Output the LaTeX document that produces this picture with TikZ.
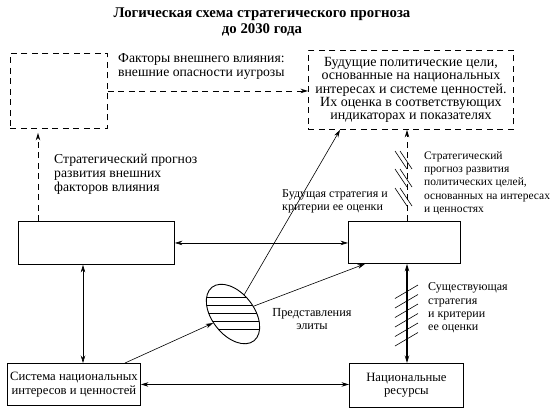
\documentclass[tikz,border=0pt]{standalone}
\usepackage{fontspec}
\setmainfont{Liberation Serif}
\usetikzlibrary{arrows.meta,shapes.geometric,calc}
\begin{document}
\begin{tikzpicture}[x=1pt,y=-1pt,
  dbox/.style={draw, dash pattern=on 6pt off 4.5pt, line width=0.9pt, inner sep=0pt, anchor=north west, align=center, font=\fontsize{14}{13.2}\selectfont},
  sbox/.style={draw, line width=0.9pt, inner sep=0pt, anchor=north west, align=center, font=\fontsize{12.7}{13.5}\selectfont},
  tip/.tip={Stealth[length=7.5pt,width=4.5pt]},
  arr/.style={line width=0.6pt, -tip},
  darr/.style={line width=0.6pt, tip-tip},
  dasharr/.style={line width=0.9pt, dash pattern=on 6pt off 4.5pt, -tip},
  txt/.style={inner sep=0pt, align=left, anchor=west},
  bigtxt/.style={txt, font=\fontsize{13.7}{14}\selectfont},
  smalltxt/.style={txt, font=\fontsize{11.5}{13.3}\selectfont},
  hatch/.style={line width=0.6pt}
]
\useasboundingbox (0,0) rectangle (550,416);

% title
\node[inner sep=0pt, align=center, font=\fontsize{14.8}{16}\selectfont\bfseries] (title) at (262,22)
  {Логическая схема стратегического прогноза\\до 2030 года};

% boxes
\node[dbox, minimum width=97pt, minimum height=75pt] (tl) at (10,53) {};
\node[dbox, minimum width=205pt, minimum height=79pt] (tr) at (308,50)
  {Будущие политические цели,\\основанные на национальных\\интересах и системе ценностей.\\Их оценка в соответствующих\\индикаторах и показателях};
\node[sbox, minimum width=156pt, minimum height=43pt] (ml) at (18,221) {};
\node[sbox, minimum width=112pt, minimum height=42pt] (mr) at (348,221) {};
\node[sbox, minimum width=133pt, minimum height=42pt] (bl) at (7,363) {Система национальных\\интересов и ценностей};
\node[sbox, minimum width=114pt, minimum height=44pt] (br) at (349,363) {Национальные\\ресурсы};

% ellipse with hatching
\begin{scope}
  \clip[rotate around={-52:(233,314)}] (233,314) ellipse (34pt and 21pt);
  \foreach \yy in {297,305,313,321,329} \draw[line width=0.7pt] (190,\yy) -- (280,\yy);
\end{scope}
\node[draw, ellipse, rotate=-52, minimum width=68pt, minimum height=42pt, line width=0.9pt, inner sep=0pt] (el) at (233,314) {};

% texts
\node[bigtxt] (t1) at (118,66) {Факторы внешнего влияния:\\внешние опасности иугрозы};
\node[bigtxt] (t2) at (54,174) {Стратегический прогноз\\развития внешних\\факторов влияния};
\node[smalltxt, font=\fontsize{12}{13}\selectfont] (t3) at (282,201.5) {Будущая стратегия и\\критерии ее оценки};
\node[smalltxt] (t4) at (424,183) {Стратегический\\прогноз развития\\политических целей,\\основанных на интересах\\и ценностях};
\node[smalltxt, font=\fontsize{12}{13.3}\selectfont] (t5) at (428,308) {Существующая\\стратегия\\и критерии\\ее оценки};
\node[inner sep=0pt, align=center, font=\fontsize{12.3}{13}\selectfont] (t6) at (312,319.5) {Представления\\элиты};

% connectors
\coordinate (a1) at ($(ml.north west)+(20,0)$);
\draw[dasharr, shorten >=4pt] (a1) -- (a1 |- tl.south);
\draw[dasharr] (tl.east) -- (tl.east -| tr.west);
\coordinate (a2) at ($(mr.north west)+(59,0)$);
\draw[dasharr] (a2) -- (a2 |- tr.south);
\draw[darr] (ml.east) -- (ml.east -| mr.west);
\coordinate (a3) at ($(ml.south west)+(65,0)$);
\draw[darr] (a3) -- (a3 |- bl.north);
\coordinate (a4) at ($(mr.south west)+(59,0)$);
\draw[darr, line width=1.1pt] (a4) -- (a4 |- br.north);
\draw[darr] (bl.east) -- (bl.east -| br.west);
\coordinate (a5) at ($(bl.north west)+(118,0)$);
\draw[arr] (a5) -- (el);
\coordinate (a6) at ($(mr.south west)+(17,0)$);
\draw[arr] (el) -- (a6);
\coordinate (a7) at ($(tr.south west)+(32,0)$);
\draw[arr] (el) -- (a7);

% hatch marks on upper right dashed line
\foreach \cy in {160,178,197} {
  \draw[hatch] ({395},{\cy-9}) -- ++(12,18);
  \draw[hatch] ({400},{\cy-9}) -- ++(12,18);
}
% hatch marks on lower right double arrow
\foreach \cy in {292,301.5,311,320.5,330,339.5} {
  \draw[hatch] ({395},{\cy+6.5}) -- ++(23,-13.5);
}
\end{tikzpicture}
\end{document}
